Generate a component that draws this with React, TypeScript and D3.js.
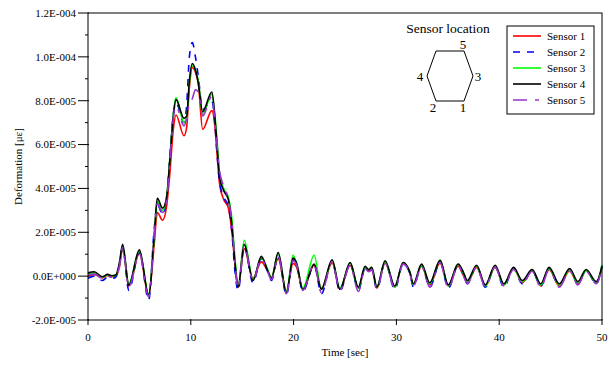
import React, { useEffect, useRef } from "react";
import * as d3 from "d3";

// time axis shared by all sensors (sec)
const times = [
  0, 0.6, 1.4, 1.9, 2.3, 2.7, 3.05, 3.37, 3.97, 5.0,
  5.9, 6.45, 6.74, 7.26, 7.65, 7.98, 8.3, 8.56, 9.34, 9.6,
  9.86, 10.15, 10.45, 10.73, 11.15, 12.05, 12.35, 12.55, 12.8, 13.2,
  13.65, 14.0, 14.3, 14.6, 15.2, 16.05, 16.86, 17.4, 17.85, 18.5,
  19.3, 19.95, 20.3, 20.9, 22.0, 22.7, 23.75, 24.5, 25.5, 26.3,
  26.95, 27.3, 27.6, 28.1, 28.9, 29.85, 30.65, 31.3, 31.65, 32.45,
  33.25, 34.25, 35.05, 36.0, 36.5, 36.9, 37.8, 38.65, 39.6, 40.45,
  41.4, 42.25, 43.2, 44.05, 44.85, 45.85, 46.85, 47.65, 48.45, 49.45,
  50,
];

// deformation values in units of 1E-5
const sensor1 = [
  -0.02, 0.08, -0.08, 0.03, -0.02, 0.0, 0.4, 1.25, -0.45, 1.03,
  -0.9, 1.5, 2.9, 2.55, 3.2, 4.8, 6.7, 7.35, 6.4, 6.8,
  8.6, 9.5, 9.3, 8.8, 6.7, 7.55, 6.8, 5.6, 4.2, 3.5,
  3.1, 2.0, 0.5, -0.5, 1.25, -0.1, 0.65, 0.3, -0.05, 0.8,
  -0.7, 0.58, 0.4, -0.6, 0.5, -0.55, 0.6, -0.6, 0.5, -0.55,
  0.35, 0.25, 0.3, -0.55, 0.6, -0.5, 0.6, 0.15, -0.4, 0.45,
  -0.4, 0.6, -0.45, 0.45, 0.05, -0.3, 0.4, -0.45, 0.4, -0.4,
  0.35, -0.3, 0.25, -0.45, 0.3, -0.45, 0.25, -0.35, 0.25, -0.3,
  0.4,
];
const sensor2 = [
  -0.1, 0.0, -0.2, -0.05, -0.1, -0.05, 0.5, 1.3, -0.65, 1.1,
  -1.1, 2.2, 3.3, 2.8, 3.6, 5.6, 7.4, 7.9, 7.0, 7.8,
  10.0, 10.65, 10.0, 9.1, 7.6, 8.0, 6.9, 5.6, 4.3, 3.6,
  3.2, 2.0, 0.2, -0.65, 1.35, -0.3, 0.8, 0.3, -0.2, 0.9,
  -0.85, 0.75, 0.5, -0.7, 0.5, -0.8, 0.7, -0.7, 0.55, -0.65,
  0.35, 0.2, 0.3, -0.6, 0.62, -0.6, 0.55, 0.15, -0.5, 0.5,
  -0.5, 0.65, -0.55, 0.5, 0.1, -0.35, 0.45, -0.5, 0.45, -0.5,
  0.35, -0.35, 0.25, -0.45, 0.35, -0.45, 0.3, -0.35, 0.25, -0.35,
  0.5,
];
const sensor3 = [
  0.1, 0.15, -0.05, 0.05, 0.0, 0.05, 0.5, 1.35, -0.35, 1.15,
  -0.8, 1.8, 3.4, 3.0, 3.6, 5.5, 7.4, 8.15, 7.0, 7.2,
  8.8, 9.6, 9.4, 8.9, 7.4, 8.3, 7.3, 6.2, 4.7, 4.0,
  3.6, 2.6, 0.8, -0.45, 1.64, -0.15, 0.85, 0.4, -0.05, 1.0,
  -0.7, 0.95, 0.55, -0.55, 0.95, -0.6, 0.7, -0.55, 0.6, -0.55,
  0.4, 0.3, 0.4, -0.5, 0.65, -0.5, 0.6, 0.2, -0.4, 0.5,
  -0.35, 0.72, -0.45, 0.55, 0.15, -0.25, 0.45, -0.45, 0.45, -0.4,
  0.35, -0.25, 0.3, -0.4, 0.35, -0.4, 0.3, -0.3, 0.25, -0.3,
  0.5,
];
const sensor4 = [
  0.15, 0.2, -0.03, 0.08, 0.02, 0.05, 0.6, 1.45, -0.4, 1.2,
  -0.85, 1.9, 3.55, 3.1, 3.6, 5.4, 7.3, 8.05, 7.2, 7.3,
  8.9, 9.7, 9.4, 8.8, 7.5, 8.4, 7.2, 6.0, 4.5, 3.9,
  3.5, 2.3, 0.6, -0.5, 1.45, -0.2, 0.9, 0.35, -0.1, 1.08,
  -0.75, 0.82, 0.58, -0.62, 0.55, -0.6, 0.75, -0.6, 0.62, -0.5,
  0.45, 0.3, 0.4, -0.5, 0.7, -0.45, 0.62, 0.2, -0.35, 0.55,
  -0.3, 0.72, -0.4, 0.55, 0.2, -0.2, 0.5, -0.4, 0.5, -0.35,
  0.4, -0.2, 0.3, -0.35, 0.4, -0.35, 0.35, -0.25, 0.3, -0.25,
  0.45,
];
const sensor5 = [
  0.05, 0.1, -0.1, 0.0, -0.05, 0.0, 0.45, 1.3, -0.5, 1.03,
  -0.95, 1.9, 3.3, 2.9, 3.5, 5.3, 7.2, 7.75, 6.85, 7.2,
  7.9, 8.1, 8.5, 8.4, 7.3, 8.2, 7.0, 6.0, 4.8, 4.1,
  3.5, 2.4, 0.6, -0.55, 1.4, -0.2, 0.8, 0.3, -0.15, 0.9,
  -0.8, 0.7, 0.5, -0.65, 0.55, -0.75, 0.65, -0.65, 0.5, -0.7,
  0.35, 0.2, 0.3, -0.6, 0.6, -0.55, 0.55, 0.15, -0.45, 0.45,
  -0.5, 0.62, -0.55, 0.48, 0.05, -0.35, 0.42, -0.5, 0.42, -0.45,
  0.3, -0.35, 0.22, -0.5, 0.3, -0.5, 0.25, -0.4, 0.22, -0.35,
  0.45,
];

const UNIT = 1e-5;

const series = [
  { name: "Sensor 1", values: sensor1, color: "#ff0000", dash: null },
  { name: "Sensor 2", values: sensor2, color: "#0000ff", dash: "7,7" },
  { name: "Sensor 3", values: sensor3, color: "#00ff00", dash: null },
  { name: "Sensor 4", values: sensor4, color: "#000000", dash: null },
  { name: "Sensor 5", values: sensor5, color: "#9933cc", dash: "14,8,4,8" },
];

const xTicks = [0, 10, 20, 30, 40, 50];
const yTicks = [-2e-5, 0, 2e-5, 4e-5, 6e-5, 8e-5, 1e-4, 1.2e-4];
const yMinorTicks = [-1e-5, 1e-5, 3e-5, 5e-5, 7e-5, 9e-5, 1.1e-4];

// hexagon corner numbering (relative offsets from centre)
const hexCorners = [
  [-14, -25], [14, -25], [23, 0], [14, 25], [-14, 25], [-23, 0],
];
const hexLabels = [
  { label: "5", dx: 13, dy: -27 },
  { label: "3", dx: 28, dy: 5 },
  { label: "4", dx: -30, dy: 5 },
  { label: "2", dx: -17, dy: 36 },
  { label: "1", dx: 13, dy: 36 },
];

const FONT = "'Liberation Serif', 'Times New Roman', serif";

function fmtExp(v: number) {
  if (Math.abs(v) < 1e-12) return "0.0E+000";
  let exp = Math.floor(Math.log10(Math.abs(v)));
  let mant = v / Math.pow(10, exp);
  if (Math.abs(mant) >= 9.95) {
    exp += 1;
    mant /= 10;
  }
  const e = String(Math.abs(exp)).padStart(3, "0");
  return `${mant.toFixed(1)}E${exp < 0 ? "-" : "+"}${e}`;
}

export default function App() {
  const svgRef = useRef<SVGSVGElement>(null);
  const width = 611;
  const height = 365;
  const margin = { top: 13, right: 9, bottom: 45, left: 88 };

  useEffect(() => {
    document.body.style.margin = "0";
    const svg = d3.select(svgRef.current);
    svg.selectAll("*").remove();

    const x = d3.scaleLinear().domain([0, 50]).range([margin.left, width - margin.right]);
    const y = d3.scaleLinear().domain([-2e-5, 1.2e-4]).range([height - margin.bottom, margin.top]);

    const g = svg.append("g").attr("font-family", FONT).attr("fill", "#000");

    // lines
    const line = d3
      .line<number>()
      .x((_, i) => x(times[i]))
      .y((d) => y(d * UNIT))
      .curve(d3.curveMonotoneX);

    series.forEach((s) => {
      g.append("path")
        .datum(s.values)
        .attr("fill", "none")
        .attr("stroke", s.color)
        .attr("stroke-width", 1.6)
        .attr("stroke-dasharray", s.dash)
        .attr("d", line);
    });

    // frame
    g.append("rect")
      .attr("x", x(0))
      .attr("y", y(1.2e-4))
      .attr("width", x(50) - x(0))
      .attr("height", y(-2e-5) - y(1.2e-4))
      .attr("fill", "none")
      .attr("stroke", "#000")
      .attr("stroke-width", 1);

    // x axis
    const xAxis = g.append("g").attr("transform", `translate(0,${y(-2e-5)})`);
    xAxis
      .selectAll("line")
      .data(xTicks)
      .enter()
      .append("line")
      .attr("x1", (d) => x(d))
      .attr("x2", (d) => x(d))
      .attr("y1", -1)
      .attr("y2", 5)
      .attr("stroke", "#000");
    xAxis
      .selectAll("text")
      .data(xTicks)
      .enter()
      .append("text")
      .attr("x", (d) => x(d))
      .attr("y", 21)
      .attr("text-anchor", "middle")
      .attr("font-size", 11)
      .text((d) => d);
    g.append("text")
      .attr("x", (x(0) + x(50)) / 2)
      .attr("y", 356)
      .attr("text-anchor", "middle")
      .attr("font-size", 11)
      .text("Time [sec]");

    // y axis
    const yAxis = g.append("g").attr("transform", `translate(${x(0)},0)`);
    yAxis
      .selectAll("line.major")
      .data(yTicks)
      .enter()
      .append("line")
      .attr("class", "major")
      .attr("x1", -10)
      .attr("x2", 1)
      .attr("y1", (d) => y(d))
      .attr("y2", (d) => y(d))
      .attr("stroke", "#000");
    yAxis
      .selectAll("line.minor")
      .data(yMinorTicks)
      .enter()
      .append("line")
      .attr("class", "minor")
      .attr("x1", -3)
      .attr("x2", 0)
      .attr("y1", (d) => y(d))
      .attr("y2", (d) => y(d))
      .attr("stroke", "#000");
    yAxis
      .selectAll("text")
      .data(yTicks)
      .enter()
      .append("text")
      .attr("x", -12)
      .attr("y", (d) => y(d))
      .attr("dy", "0.35em")
      .attr("text-anchor", "end")
      .attr("font-size", 11)
      .text((d) => fmtExp(d));
    g.append("text")
      .attr("transform", `translate(22,${(y(-2e-5) + y(1.2e-4)) / 2}) rotate(-90)`)
      .attr("text-anchor", "middle")
      .attr("font-size", 11)
      .text("Deformation [με]");

    // sensor location sketch
    const cx = 450;
    const cy = 76;
    g.append("text")
      .attr("x", 448)
      .attr("y", 33)
      .attr("text-anchor", "middle")
      .attr("font-size", 13.5)
      .text("Sensor location");
    g.append("path")
      .attr("d", d3.line()(hexCorners.map(([dx, dy]) => [cx + dx, cy + dy])) + "Z")
      .attr("fill", "none")
      .attr("stroke", "#000")
      .attr("stroke-width", 1);
    g.selectAll("text.hex")
      .data(hexLabels)
      .enter()
      .append("text")
      .attr("class", "hex")
      .attr("x", (d) => cx + d.dx)
      .attr("y", (d) => cy + d.dy)
      .attr("text-anchor", "middle")
      .attr("font-size", 13)
      .text((d) => d.label);

    // legend
    const lg = g.append("g").attr("transform", "translate(507,26)");
    lg.append("rect")
      .attr("width", 87)
      .attr("height", 88)
      .attr("fill", "#fff")
      .attr("stroke", "#000")
      .attr("stroke-width", 1);
    series.forEach((s, i) => {
      const ly = 10 + i * 16;
      lg.append("line")
        .attr("x1", 6)
        .attr("x2", 34)
        .attr("y1", ly)
        .attr("y2", ly)
        .attr("stroke", s.color)
        .attr("stroke-width", 1.6)
        .attr("stroke-dasharray", s.dash);
      lg.append("text")
        .attr("x", 40)
        .attr("y", ly)
        .attr("dy", "0.35em")
        .attr("font-size", 11)
        .text(s.name);
    });
  }, []);

  return (
    <div>
      <svg ref={svgRef} width={width} height={height} style={{ display: "block" }}></svg>
    </div>
  );
}
